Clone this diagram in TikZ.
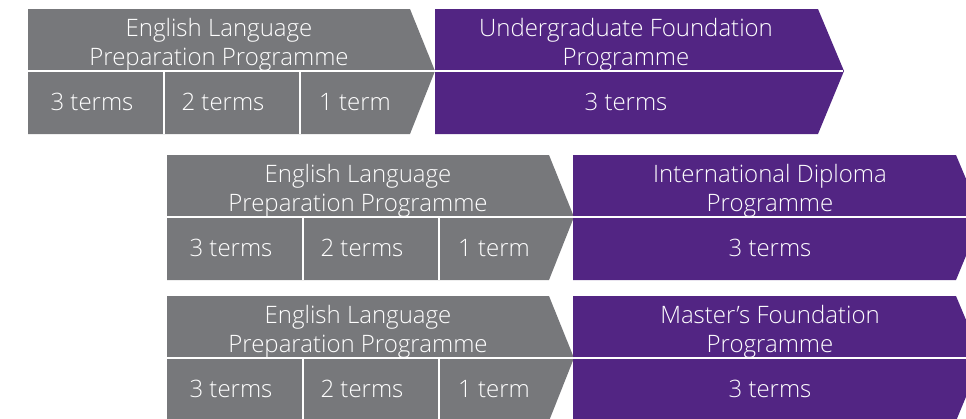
\documentclass[tikz,border=0pt]{standalone}
\usepackage{fontspec}
\setmainfont{Open Sans Light}
\usetikzlibrary{positioning}
\definecolor{mgrey}{RGB}{119,120,123}
\definecolor{mpurple}{RGB}{82,37,131}

\begin{document}
\begin{tikzpicture}[x=1pt, y=-1pt,
    boxtext/.style={text=white, align=center, inner sep=0pt, font=\fontsize{24}{29}\selectfont}]
  \clip (0, 0) rectangle (966, 418);
  \foreach \i/\xa/\ya/\xb/\xc/\prog in {1/28/9/435/626/{Undergraduate Foundation\\Programme},
      2/167/155/573/770/{International Diploma\\Programme},
      3/167/296/573/770/{Master's Foundation\\Programme}} {
    % grey chevron
    \fill [mgrey] (\xa, \ya) -- ++(382, 0) -- ++(25, 62) -- ++(-25, 63) -- (\xa, \ya+125) -- cycle;
    % purple chevron
    \fill [mpurple] (\xb, \ya) -- ++(383, 0) -- ++(26, 62) -- ++(-26, 63) -- (\xb, \ya+125) -- cycle;
    \draw [white, line width=1.2pt] (\xa, \ya+62) -- (\xb+408, \ya+62);
    \draw [white, line width=1.2pt] (\xa+136, \ya+62) -- (\xa+136, \ya+125);
    \draw [white, line width=1.2pt] (\xa+272, \ya+62) -- (\xa+272, \ya+125);

    \node [boxtext] (elp\i) at (\xa+191, \ya+36) {English Language\\Preparation Programme};
    \node [boxtext, anchor=base] (three\i) at (\xa+64, \ya+101) {3 terms};
    \node [boxtext, anchor=base] (two\i) at (\xa+195, \ya+101) {2 terms};
    \node [boxtext, anchor=base] (one\i) at (\xa+327, \ya+101) {1 term};

    \node [boxtext] (prog\i) at (\xc, \ya+36) {\prog};
    \node [boxtext, anchor=base] (full\i) at (\xc, \ya+101) {3 terms};
  }
\end{tikzpicture}
\end{document}
